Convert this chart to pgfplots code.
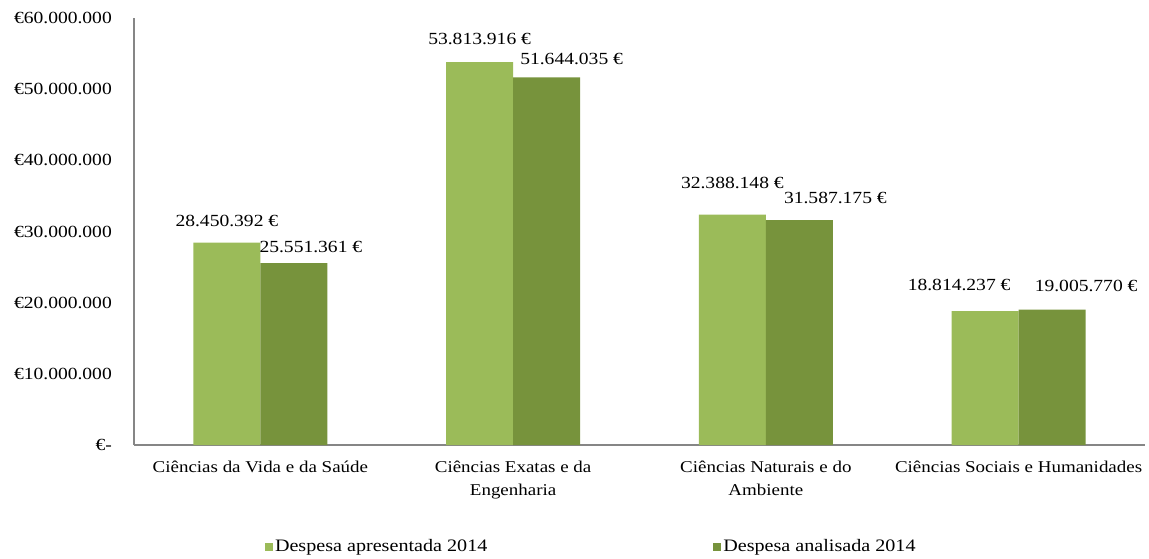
\documentclass[border=0pt]{standalone}
\usepackage{fontspec}
\setmainfont{Liberation Serif}[FakeStretch=1.15]
\usepackage{pgfplots}
\usepackage{pgfplotstable}
\pgfplotsset{compat=1.18}
\definecolor{lightg}{HTML}{9BBB59}
\definecolor{darkg}{HTML}{77933C}
\definecolor{axisgray}{HTML}{868686}

\pgfplotstableread[col sep=comma]{
x,y,lx,ly,lbl
0,28450392,0,22,28.450.392 €
1,53813916,0,23,53.813.916 €
2,32388148,0,32,32.388.148 €
3,18814237,-26,26,18.814.237 €
}\apresentada
\pgfplotstableread[col sep=comma]{
x,y,lx,ly,lbl
0,25551361,17,16,25.551.361 €
1,51644035,25,19,51.644.035 €
2,31587175,36,22,31.587.175 €
3,19005770,34,24,19.005.770 €
}\analisada

\begin{document}
\begin{tikzpicture}[x=1pt,y=1pt]
\path[use as bounding box] (0,0) rectangle (1149,558);
\begin{axis}[
  at={(134pt,113pt)}, anchor=south west,
  scale only axis, width=1011pt, height=427pt,
  xmin=-0.5, xmax=3.5, ymin=0, ymax=60000000,
  axis x line=bottom, axis y line=left,
  axis line style={draw=axisgray, line width=1.2pt, -},
  major tick length=0pt,
  xtick={0,1,2,3},
  xticklabels={{Ciências da Vida e da Saúde},{Ciências Exatas e da\\Engenharia},{Ciências Naturais e do\\Ambiente},{Ciências Sociais e Humanidades}},
  xticklabel style={font=\fontsize{16.5}{23}\selectfont, align=center, anchor=north, inner sep=0pt, yshift=-16pt},
  ytick={0,10000000,20000000,30000000,40000000,50000000,60000000},
  yticklabels={€-,€10.000.000,€20.000.000,€30.000.000,€40.000.000,€50.000.000,€60.000.000},
  yticklabel style={font=\fontsize{17}{20}\selectfont, anchor=east, inner sep=0pt, xshift=-22pt},
  scaled y ticks=false,
  ybar=0pt, bar width=67pt,
  nodes near coords={\pgfplotspointmeta},
  point meta=explicit symbolic,
  visualization depends on={\thisrow{lx} \as \lblx},
  visualization depends on={\thisrow{ly} \as \lbly},
  every node near coord/.append style={font=\fontsize{17}{20}\selectfont, anchor=center, inner sep=0pt, xshift=\lblx pt, yshift=\lbly pt, text=black},
  legend columns=2,
  legend style={draw=none, fill=none, font=\fontsize{17.5}{20}\selectfont,
    at={(axis description cs:0.1296,-0.2377)}, anchor=west,
    inner sep=0pt, outer sep=0pt,
    /tikz/every even column/.append style={column sep=224pt}},
  legend image code/.code={\fill[#1] (0pt,-4pt) rectangle (8pt,4pt);},
  legend cell align=left,
]
\addplot[fill=lightg, draw=none] table[x=x, y=y, meta=lbl] {\apresentada};
\addlegendentry{Despesa apresentada 2014}
\addplot[fill=darkg, draw=none] table[x=x, y=y, meta=lbl] {\analisada};
\addlegendentry{Despesa analisada 2014}
\end{axis}
\end{tikzpicture}
\end{document}
